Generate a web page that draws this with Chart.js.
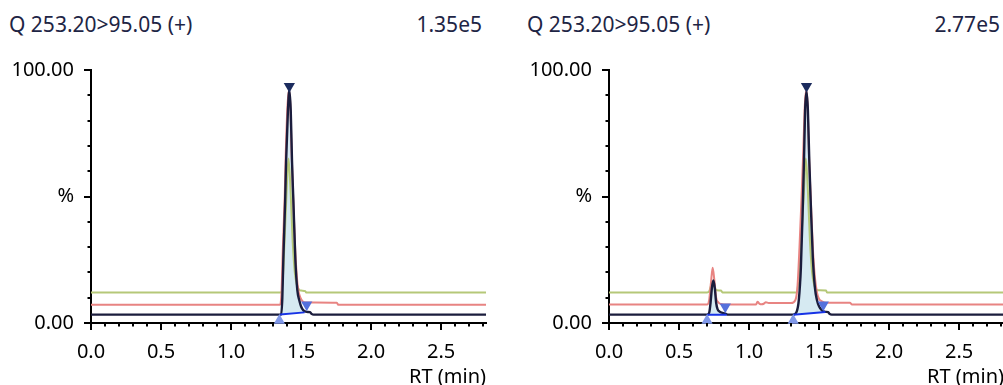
<!DOCTYPE html>
<html>
<head>
<meta charset="utf-8">
<script src="https://cdn.jsdelivr.net/npm/chart.js@4.4.1/dist/chart.umd.min.js"></script>
<style>
  html, body { margin: 0; padding: 0; background: #fff; overflow: hidden; }
  body { width: 1003px; height: 385px; position: relative; font-family: "Noto Sans", sans-serif; }
  .panel { position: absolute; top: 0; width: 518px; height: 385px; }
  .panel canvas { position: absolute; left: 0; top: 0; }
  .head { position: absolute; top: 10px; font-size: 21px; line-height: 28px; color: #1e2545; white-space: nowrap; }
  .title { left: 9px; }
  .scale { right: 36px; }
</style>
</head>
<body>
<div class="panel" style="left:0">
  <div class="head title" id="t0"></div>
  <div class="head scale" id="s0"></div>
  <canvas id="c0" width="518" height="385"></canvas>
</div>
<div class="panel" style="left:518px">
  <div class="head title" id="t1"></div>
  <div class="head scale" id="s1"></div>
  <canvas id="c1" width="518" height="385"></canvas>
</div>
<script>
// header text
const channel = 'Q 253.20>95.05 (+)';
const intensities = ['1.35e5', '2.77e5'];
const xTitle = 'RT (min)';

// axes
const rtMin = 0, rtMax = 2.82;
const yTickValues = [0, 50, 100];
const yTickText = ['0.00', '%', '100.00'];

// left panel traces, [RT, %]
const leftGreen = [[0, 12.1], [1.36, 12.1], [1.37, 18], [1.38, 30], [1.395, 50], [1.41, 65], [1.425, 52],
  [1.44, 32], [1.455, 20], [1.47, 15], [1.485, 13.2], [1.5, 12.8], [1.53, 12.6], [1.536, 12.1], [2.82, 12.1]];
const leftRed = [[0, 7.2], [1.35, 7.2], [1.36, 12], [1.37, 30], [1.383, 50], [1.39, 66], [1.403, 86], [1.413, 92],
  [1.423, 86], [1.433, 66], [1.443, 50], [1.457, 30], [1.47, 18], [1.48, 13], [1.495, 10], [1.51, 8.6],
  [1.53, 8.1], [1.755, 8.0], [1.765, 7.2], [2.82, 7.2]];
const leftDark = [[0, 3.3], [1.358, 3.3], [1.366, 10], [1.373, 25], [1.386, 48], [1.393, 64], [1.406, 84],
  [1.416, 92], [1.426, 84], [1.435, 64], [1.445, 48], [1.459, 25], [1.473, 13], [1.487, 9], [1.5, 6.5],
  [1.516, 5], [1.54, 4.4], [1.564, 4.3], [1.575, 3.6], [1.59, 3.3], [2.82, 3.3]];
const leftBase = [[1.35, 3.4], [1.525, 4.2]];
const leftApex = [[1.416, 93.6]];
const leftStart = [[1.345, 1.0]];
const leftEnd = [[1.54, 7.2]];

// right panel traces
const rightGreen = [[0, 12.1], [0.70, 12.1], [0.715, 12.5], [0.73, 15], [0.742, 16], [0.755, 14], [0.77, 12.9],
  [0.8, 12.8], [0.81, 12.1], [1.34, 12.1], [1.355, 18], [1.37, 30], [1.39, 50], [1.405, 65], [1.42, 52],
  [1.435, 32], [1.45, 20], [1.465, 15], [1.48, 13.2], [1.5, 12.9], [1.55, 12.8], [1.556, 12.1], [2.82, 12.1]];
const rightRed = [[0, 7.3], [0.70, 7.3], [0.715, 9], [0.728, 16], [0.74, 21.8], [0.752, 17], [0.765, 10],
  [0.78, 8.2], [0.8, 7.5], [0.82, 7.3], [1.05, 7.3], [1.06, 8.4], [1.075, 7.6], [1.09, 7.4], [1.105, 7.6],
  [1.12, 8.2], [1.14, 7.9], [1.3, 7.9], [1.33, 9], [1.345, 14], [1.36, 30], [1.375, 50], [1.387, 68],
  [1.398, 86], [1.408, 92], [1.418, 86], [1.428, 66], [1.44, 50], [1.455, 30], [1.47, 18], [1.485, 12],
  [1.5, 9.5], [1.52, 8.6], [1.55, 8.0], [1.72, 8.0], [1.735, 7.3], [2.82, 7.3]];
const rightDark = [[0, 3.3], [0.70, 3.3], [0.715, 4], [0.725, 8], [0.735, 14], [0.745, 16.8], [0.755, 14],
  [0.765, 8], [0.775, 5.5], [0.79, 4.5], [0.81, 4.0], [0.835, 3.6], [0.85, 3.3], [1.315, 3.3], [1.34, 4.5],
  [1.355, 9], [1.37, 22], [1.383, 45], [1.392, 64], [1.4, 84], [1.41, 91.5], [1.42, 84], [1.43, 64],
  [1.44, 48], [1.455, 26], [1.47, 14], [1.485, 9], [1.5, 6.5], [1.52, 5], [1.545, 4.4], [1.565, 4.3],
  [1.575, 3.6], [1.59, 3.3], [2.82, 3.3]];
const rightBase = [[0.70, 3.3], [0.84, 3.3], [1.0, null], [1.315, 3.3], [1.545, 4.3]];
const rightApex = [[1.41, 93.6]];
const rightStart = [[0.70, 1.0], [1.315, 1.0]];
const rightEnd = [[0.83, 6.4], [1.53, 7.2]];

const pts = arr => arr.map(p => ({ x: p[0], y: p[1] }));
const isMajor = v => Math.abs(v * 2 - Math.round(v * 2)) < 1e-6;

// short / long tick marks drawn on the library's scales
const axisTicks = {
  id: 'axisTicks',
  afterDraw(chart) {
    const { ctx, scales: { x, y } } = chart;
    ctx.save();
    ctx.strokeStyle = '#000';
    ctx.lineWidth = 2;
    ctx.beginPath();
    y.ticks.forEach(t => {
      const py = Math.round(y.getPixelForValue(t.value));
      const len = t.value % 50 === 0 ? 7 : 3.5;
      ctx.moveTo(y.right - len, py);
      ctx.lineTo(y.right, py);
    });
    x.ticks.forEach(t => {
      const px = Math.round(x.getPixelForValue(t.value));
      const len = isMajor(t.value) ? 7 : 3.5;
      ctx.moveTo(px, x.top);
      ctx.lineTo(px, x.top + len);
    });
    ctx.stroke();
    ctx.restore();
  }
};

function line(data, color, width) {
  return { data: pts(data), borderColor: color, borderWidth: width, pointRadius: 0,
    cubicInterpolationMode: 'monotone', fill: false };
}

function marker(data, color, rotation) {
  return { data: pts(data), showLine: false, pointStyle: 'triangle', rotation: rotation,
    pointRadius: 6.5, pointBackgroundColor: color, pointBorderWidth: 0, clip: false };
}

function makePanel(id, tr) {
  const base = { data: pts(tr.base), borderColor: '#1733e6', borderWidth: 2, pointRadius: 0,
    backgroundColor: '#d6eaf2', fill: 4, spanGaps: false };
  new Chart(document.getElementById(id), {
    type: 'line',
    data: {
      datasets: [
        marker(tr.apex, '#1c2c5e', 180),
        marker(tr.start, '#7f97e8', 0),
        marker(tr.end, '#5470dc', 180),
        base,
        line(tr.dark, '#1b1d3d', 2.4),
        line(tr.red, '#e88482', 2),
        line(tr.green, '#b5c878', 2)
      ]
    },
    options: {
      responsive: false,
      animation: false,
      events: [],
      layout: { padding: { top: 70, right: 32, left: 0, bottom: 0 } },
      plugins: { legend: { display: false }, tooltip: { enabled: false }, filler: { drawTime: 'beforeDatasetsDraw' } },
      scales: {
        x: {
          type: 'linear', min: rtMin, max: rtMax,
          grid: { display: false, drawTicks: true, tickLength: 8 },
          border: { display: true, color: '#000', width: 2 },
          ticks: { stepSize: 0.1, includeBounds: false, autoSkip: false, maxRotation: 0, padding: 9,
            color: '#000', font: { family: 'Noto Sans', size: 20 },
            callback: v => isMajor(v) ? v.toFixed(1) : '' },
          title: { display: true, text: xTitle, align: 'end', color: '#000',
            font: { family: 'Noto Sans', size: 20, lineHeight: 0.75 }, padding: { top: 0, bottom: 0 } },
          afterFit: s => { s.height = 62; }
        },
        y: {
          min: 0, max: 100,
          grid: { display: false, drawTicks: true, tickLength: 8 },
          border: { display: true, color: '#000', width: 2 },
          ticks: { stepSize: 10, autoSkip: false, padding: 9, color: '#000', font: { family: 'Noto Sans', size: 20 },
            callback: v => { const i = yTickValues.indexOf(v); return i < 0 ? '' : yTickText[i]; } },
          afterFit: s => { s.width = 91; }
        }
      }
    },
    plugins: [axisTicks]
  });
}

document.getElementById('t0').textContent = channel;
document.getElementById('t1').textContent = channel;
document.getElementById('s0').textContent = intensities[0];
document.getElementById('s1').textContent = intensities[1];

makePanel('c0', { green: leftGreen, red: leftRed, dark: leftDark, base: leftBase,
  apex: leftApex, start: leftStart, end: leftEnd });
makePanel('c1', { green: rightGreen, red: rightRed, dark: rightDark, base: rightBase,
  apex: rightApex, start: rightStart, end: rightEnd });
</script>
</body>
</html>
